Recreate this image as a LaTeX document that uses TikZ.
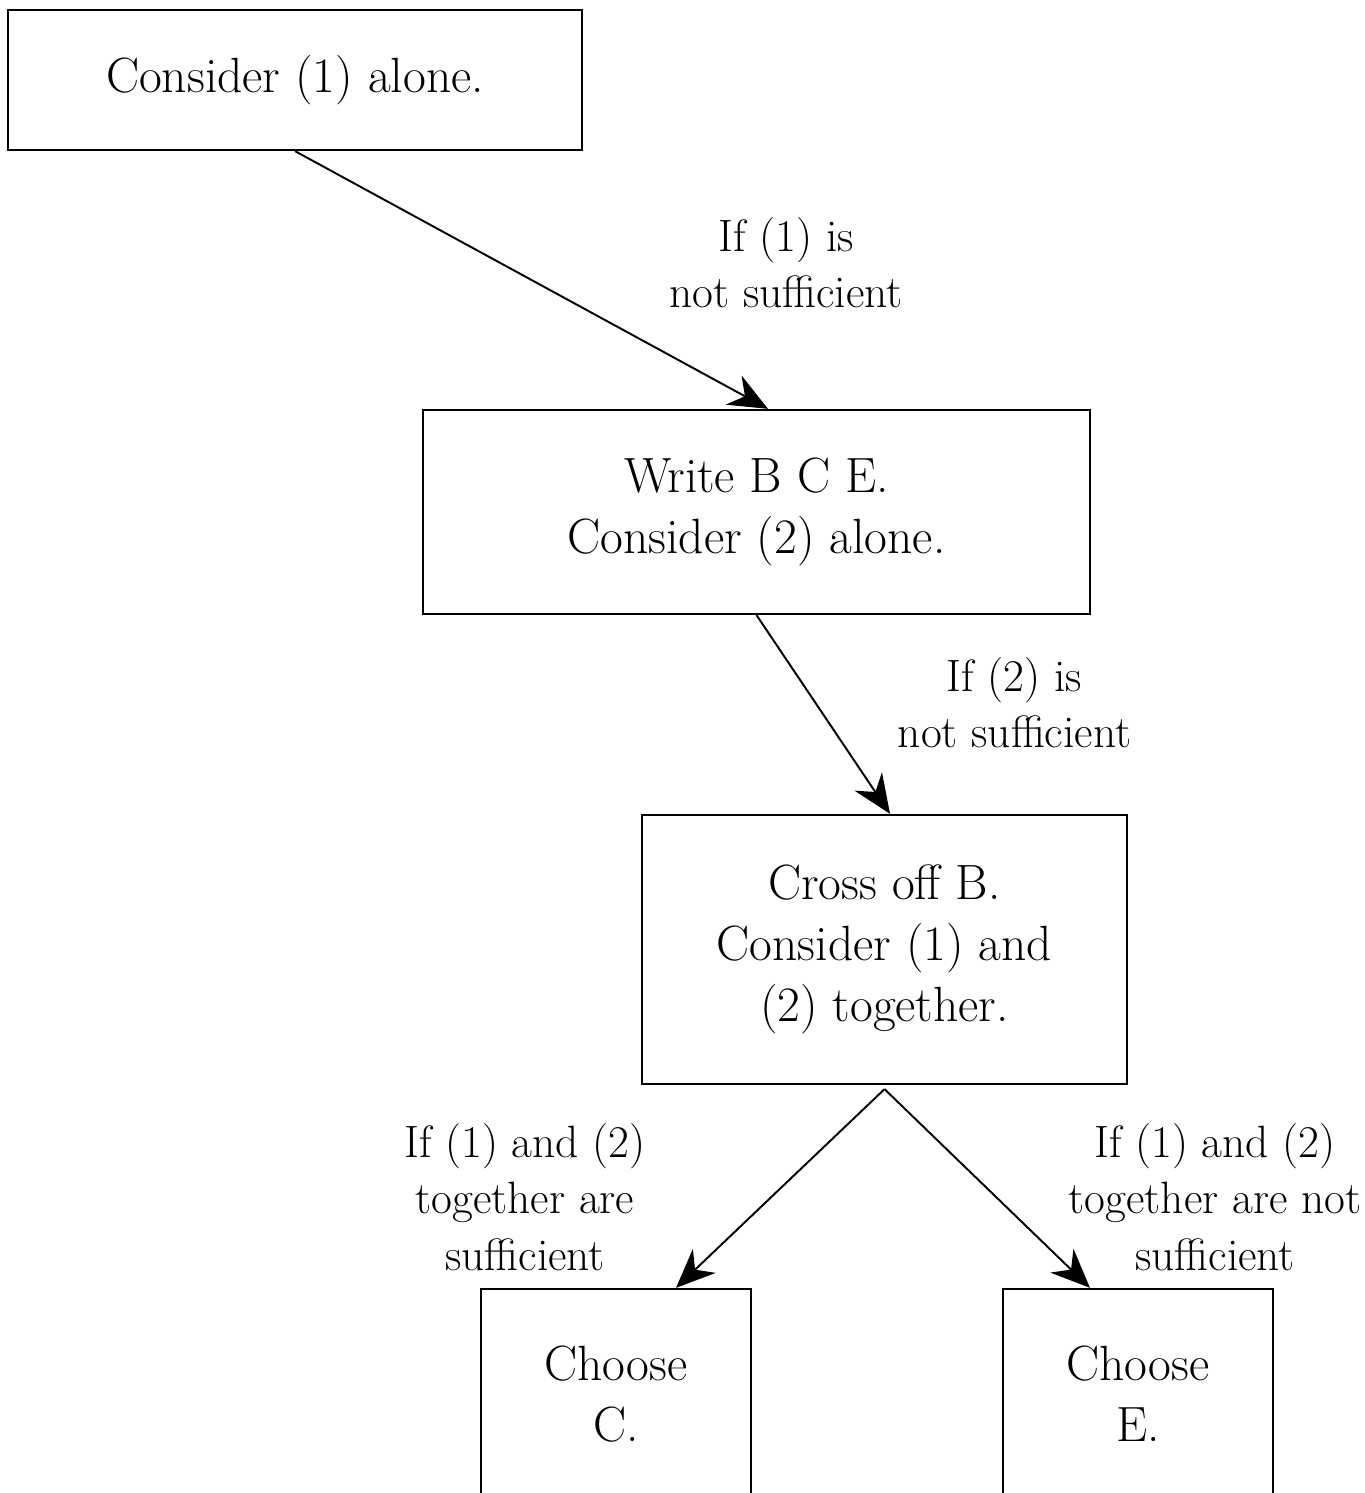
\documentclass[tikz,border=0pt]{standalone}
\usetikzlibrary{arrows.meta}
\begin{document}
\begin{tikzpicture}[
        box/.style={draw, line width=1.3pt, inner sep=0pt, align=center,
            font={\fontsize{28.2}{34.6}\selectfont}},
        cond/.style={align=center, inner sep=0pt, font={\fontsize{25.8}{32}\selectfont}},
        flow/.style={line width=1.1pt, -{Stealth[length=0.78cm, width=0.66cm]}}
    ]
        \clip (0, 0) rectangle (27.28, 29.86);
        \begin{scope}[]
        % Boxes, top to bottom
        \node (alone1) at (5.9, 28.26) [box, minimum width=11.48cm, minimum height=2.8cm] {Consider (1) alone.};
        \node (alone2) at (15.13, 19.62) [box, minimum width=13.34cm, minimum height=4.08cm] {Write B C E.\\Consider (2) alone.};
        \node (together) at (17.69, 10.87) [box, minimum width=9.7cm, minimum height=5.38cm] {Cross off B.\\Consider (1) and\\(2) together.};
        \node (choosec) at (12.32, 1.98) [box, minimum width=5.4cm, minimum height=4.2cm] {Choose\\C.};
        \node (choosee) at (22.76, 1.98) [box, minimum width=5.4cm, minimum height=4.2cm] {Choose\\E.};

        % Conditions next to the arrows
        \node (notone) at (15.72, 24.61) [cond] {If (1) is\\not sufficient};
        \node (nottwo) at (20.29, 15.81) [cond] {If (2) is\\not sufficient};
        \node (both) at (10.5, 5.92) [cond] {If (1) and (2)\\together are\\sufficient};
        \node (notboth) at (24.3, 5.92) [cond] {If (1) and (2)\\together are not\\sufficient};

        % Arrows between boxes
        \draw[flow] (alone1.south) -- ([xshift=0.23cm]alone2.north);
        \draw[flow] (alone2.south) -- ([xshift=0.11cm]together.north);
        \draw[flow] ([yshift=-0.08cm]together.south) -- ([xshift=1.2cm]choosec.north);
        \draw[flow] ([yshift=-0.08cm]together.south) -- ([xshift=-0.96cm]choosee.north);
        \end{scope}
    \end{tikzpicture}
\end{document}
